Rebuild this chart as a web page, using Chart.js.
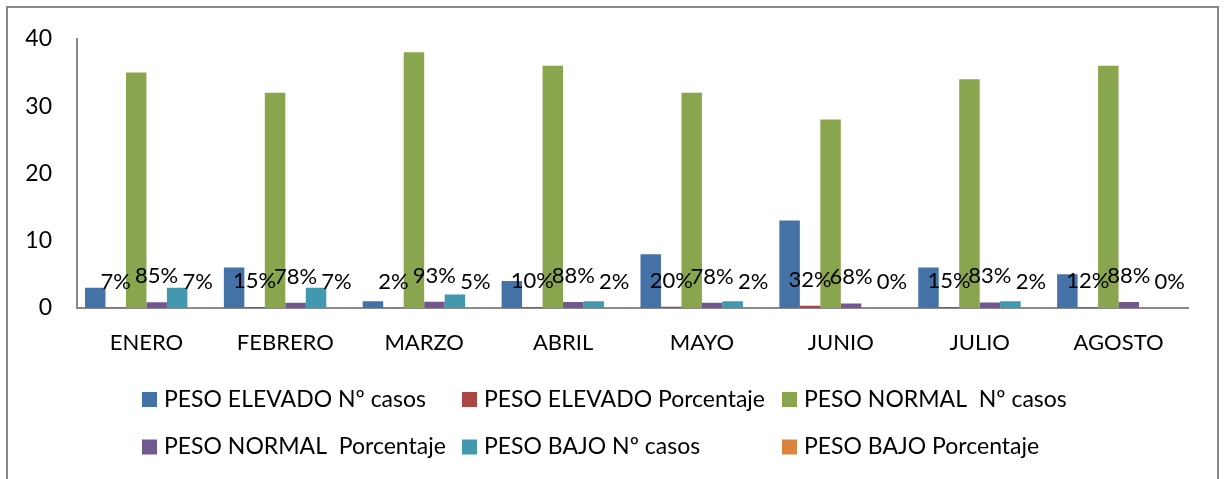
<!DOCTYPE html>
<html>
<head>
<meta charset="utf-8">
<script src="https://cdn.jsdelivr.net/npm/chart.js@4"></script>
<style>
  html, body { margin: 0; padding: 0; background: #fff; overflow: hidden; }
  #frame {
    position: absolute; left: 6px; top: 6px;
    width: 1209px; height: 520px;
    border: 2px solid #878787;
    pointer-events: none;
  }
  canvas { position: absolute; left: 0; top: 0; }
</style>
</head>
<body>
<canvas id="peso-chart" width="1225" height="479"></canvas>
<div id="frame"></div>
<script>
// -------- data --------------------------------- //
const months = ["ENERO", "FEBRERO", "MARZO", "ABRIL", "MAYO", "JUNIO", "JULIO", "AGOSTO"];

const elevadoCasos = [3, 6, 1, 4, 8, 13, 6, 5];
const elevadoPct = [0.07, 0.15, 0.02, 0.10, 0.20, 0.32, 0.15, 0.12];
const normalCasos = [35, 32, 38, 36, 32, 28, 34, 36];
const normalPct = [0.85, 0.78, 0.93, 0.88, 0.78, 0.68, 0.83, 0.88];
const bajoCasos = [3, 3, 2, 1, 1, 0, 1, 0];
const bajoPct = [0.07, 0.07, 0.05, 0.02, 0.02, 0, 0.02, 0];

const yTicks = [0, 10, 20, 30, 40];

const seriesNames = [
    "PESO ELEVADO Nº casos",
    "PESO ELEVADO Porcentaje",
    "PESO NORMAL  Nº casos",
    "PESO NORMAL  Porcentaje",
    "PESO BAJO Nº casos",
    "PESO BAJO Porcentaje"
];
const seriesColors = ['#4572A7', '#AA4643', '#89A54E', '#71588F', '#4198AF', '#DB843D'];
const seriesData = [elevadoCasos, elevadoPct, normalCasos, normalPct, bajoCasos, bajoPct];
// which series get a percent label above the bar
const labelled = [false, true, false, true, false, true];

const FONT = 'Lato, "Liberation Sans", sans-serif';
Chart.defaults.font.family = FONT;
Chart.defaults.color = '#000';

// -------- percent labels over the small bars ------------ //
const pctLabels = {
    id: 'pctLabels',
    afterDatasetsDraw(chart) {
        const ctx = chart.ctx;
        ctx.save();
        ctx.font = '22px ' + FONT;
        ctx.fillStyle = '#000';
        ctx.textAlign = 'center';
        ctx.textBaseline = 'alphabetic';
        chart.data.datasets.forEach((ds, i) => {
            if (!labelled[i]) return;
            chart.getDatasetMeta(i).data.forEach((bar, j) => {
                const txt = Math.round(ds.data[j] * 100) + '%';
                ctx.fillText(txt, bar.x, bar.y - 19);
            });
        });
        ctx.restore();
    }
};

// -------- legend in a 3 column grid ------------ //
const gridLegend = {
    id: 'gridLegend',
    afterDraw(chart) {
        const ctx = chart.ctx;
        ctx.save();
        ctx.font = '23px ' + FONT;
        ctx.textBaseline = 'middle';
        ctx.textAlign = 'left';
        chart.data.datasets.forEach((ds, i) => {
            const col = i % 3;
            const row = Math.floor(i / 3);
            const x = 142 + col * 320;
            const y = 399.5 + row * 47.5;
            ctx.fillStyle = ds.backgroundColor;
            ctx.fillRect(x, y - 7.5, 15, 15);
            ctx.fillStyle = '#000';
            ctx.fillText(ds.label, x + 22, y);
        });
        ctx.restore();
    }
};

const pesoCanvas = document.getElementById("peso-chart");

const pesoData = {
    labels: months,
    datasets: seriesNames.map((name, i) => ({
        label: name,
        data: seriesData[i],
        backgroundColor: seriesColors[i],
        borderWidth: 0,
        barPercentage: 1,
        categoryPercentage: 0.885
    }))
};

const pesoOptions = {
    responsive: false,
    animation: false,
    layout: {
        padding: { top: 37, right: 37, bottom: 121, left: 0 }
    },
    scales: {
        x: {
            grid: { display: false, drawTicks: false },
            border: { display: true, color: '#898989', width: 2 },
            ticks: { font: { size: 22 }, padding: 22, maxRotation: 0 },
            afterFit: (scale) => { scale.height = 50; }
        },
        y: {
            min: 0,
            max: 40,
            afterBuildTicks: (scale) => { scale.ticks = yTicks.map(v => ({ value: v })); },
            grid: { display: false, drawTicks: false },
            border: { display: true, color: '#898989', width: 2 },
            ticks: { font: { size: 23 }, padding: 25 },
            afterFit: (scale) => { scale.width = 77; }
        }
    },
    plugins: {
        legend: { display: false },
        tooltip: { enabled: false }
    }
};

let pesoChart = new Chart(pesoCanvas, {
    type: 'bar',
    data: pesoData,
    options: pesoOptions,
    plugins: [pctLabels, gridLegend]
});
</script>
</body>
</html>
